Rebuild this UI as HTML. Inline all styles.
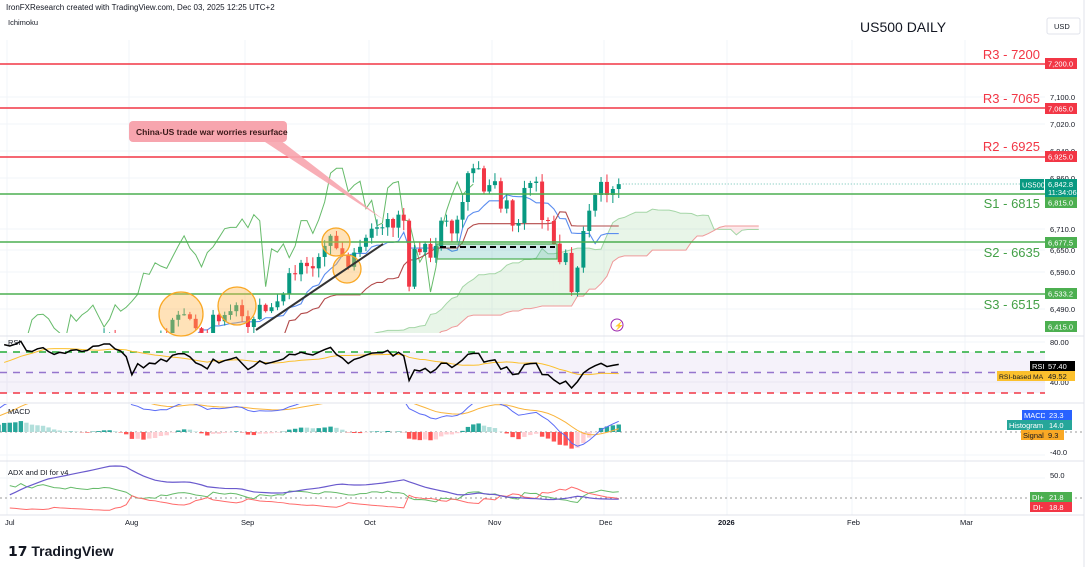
<!DOCTYPE html>
<html><head><meta charset="utf-8"><style>
body{margin:0;background:#fff;width:1090px;height:567px;overflow:hidden;font-family:"Liberation Sans",sans-serif}
svg{position:absolute;left:0;top:0}
</style></head><body>
<svg id="s" width="1090" height="567" xmlns="http://www.w3.org/2000/svg" font-family="Liberation Sans, sans-serif">
<rect width="1090" height="567" fill="#fff"/>
<g id="grid"></g>
<g id="dyn"></g>
<g id="static">
<text x="6" y="10" font-size="8" fill="#131722">IronFXResearch created with TradingView.com, Dec 03, 2025 12:25 UTC+2</text>
<text x="8" y="25" font-size="7.5" fill="#131722">Ichimoku</text>
<text x="860" y="32" font-size="14" fill="#131722">US500 DAILY</text>
<rect x="1047" y="18" width="33" height="16" rx="2" fill="#fff" stroke="#e0e3eb"/>
<text x="1054" y="29" font-size="7.5" fill="#131722">USD</text>
<text x="8" y="345" font-size="7.5" fill="#131722">RSI</text>
<text x="8" y="414" font-size="7.5" fill="#131722">MACD</text>
<text x="8" y="475" font-size="7.5" fill="#131722">ADX and DI for v4</text>
<g font-size="7.5" fill="#131722">
<text x="1050" y="100">7,100.0</text><text x="1050" y="127">7,020.0</text><text x="1050" y="154">6,940.0</text>
<text x="1050" y="181">6,860.0</text><text x="1050" y="232">6,710.0</text><text x="1050" y="253">6,650.0</text>
<text x="1050" y="275">6,590.0</text><text x="1050" y="312">6,490.0</text>
<text x="1050" y="345">80.00</text><text x="1050" y="385">40.00</text>
<text x="1050" y="455">-40.0</text><text x="1050" y="478">50.0</text>
</g>
<g font-size="7.5" fill="#131722">
<text x="5" y="525">Jul</text><text x="125" y="525">Aug</text><text x="241" y="525">Sep</text><text x="364" y="525">Oct</text>
<text x="488" y="525">Nov</text><text x="599" y="525">Dec</text><text x="718" y="525" font-weight="bold">2026</text>
<text x="847" y="525">Feb</text><text x="960" y="525">Mar</text>
</g>
<line x1="0" y1="515" x2="1084" y2="515" stroke="#e0e3eb"/>
<line x1="1084" y1="0" x2="1084" y2="567" stroke="#e0e3eb"/>
<line x1="0" y1="403" x2="1084" y2="403" stroke="#e0e3eb"/>
<line x1="0" y1="461" x2="1084" y2="461" stroke="#e0e3eb"/>
<line x1="0" y1="336" x2="1084" y2="336" stroke="#e0e3eb"/>
<g stroke-width="1.5">
<line x1="0" y1="64" x2="1045" y2="64" stroke="#f23645"/>
<line x1="0" y1="108" x2="1045" y2="108" stroke="#f23645"/>
<line x1="0" y1="157" x2="1045" y2="157" stroke="#f23645"/>
<line x1="0" y1="194" x2="1045" y2="194" stroke="#4caf50"/>
<line x1="0" y1="242" x2="1045" y2="242" stroke="#4caf50"/>
<line x1="0" y1="294" x2="1045" y2="294" stroke="#4caf50"/>
</g>
<g font-size="13" text-anchor="end">
<text x="1040" y="59" fill="#f23645">R3 - 7200</text>
<text x="1040" y="103" fill="#f23645">R3 - 7065</text>
<text x="1040" y="151" fill="#f23645">R2 - 6925</text>
<text x="1040" y="208" fill="#43a047">S1 - 6815</text>
<text x="1040" y="257" fill="#43a047">S2 - 6635</text>
<text x="1040" y="309" fill="#43a047">S3 - 6515</text>
</g>
<g font-size="7.5" fill="#fff">
<rect x="1045" y="58" width="32" height="11" fill="#f23645"/><text x="1048" y="66.5">7,200.0</text>
<rect x="1045" y="103" width="32" height="11" fill="#f23645"/><text x="1048" y="111.5">7,065.0</text>
<rect x="1045" y="151" width="32" height="11" fill="#f23645"/><text x="1048" y="159.5">6,925.0</text>
<rect x="1020" y="179" width="24" height="11" fill="#089981"/><text x="1022" y="187.5">US500</text>
<rect x="1045" y="179" width="32" height="18" fill="#089981"/><text x="1048" y="187">6,842.8</text><text x="1048" y="195">11:34:06</text>
<rect x="1045" y="197" width="32" height="11" fill="#4caf50"/><text x="1048" y="205.5">6,815.0</text>
<rect x="1045" y="237" width="32" height="11" fill="#4caf50"/><text x="1048" y="245.5">6,677.5</text>
<rect x="1045" y="288" width="32" height="11" fill="#4caf50"/><text x="1048" y="296.5">6,533.2</text>
<rect x="1045" y="321" width="32" height="11" fill="#4caf50"/><text x="1048" y="329.5">6,415.0</text>
<rect x="1030" y="361" width="15" height="10" fill="#000"/><text x="1032" y="369">RSI</text>
<rect x="1045" y="361" width="30" height="10" fill="#000"/><text x="1048" y="369">57.40</text>
<rect x="997" y="371" width="48" height="10" fill="#fbc02d"/><text x="999" y="379" fill="#131722" font-size="6.8">RSI-based MA</text>
<rect x="1045" y="371" width="30" height="10" fill="#fbc02d"/><text x="1048" y="379" fill="#131722">49.52</text>
<rect x="1022" y="410" width="23" height="10" fill="#2962ff"/><text x="1024" y="418">MACD</text>
<rect x="1045" y="410" width="27" height="10" fill="#2962ff"/><text x="1049" y="418">23.3</text>
<rect x="1007" y="420" width="38" height="10" fill="#26a69a"/><text x="1009" y="428">Histogram</text>
<rect x="1045" y="420" width="27" height="10" fill="#26a69a"/><text x="1049" y="428">14.0</text>
<rect x="1021" y="430" width="24" height="10" fill="#f9a825"/><text x="1023" y="438" fill="#131722">Signal</text>
<rect x="1045" y="430" width="19" height="10" fill="#f9a825"/><text x="1048" y="438" fill="#131722">9.3</text>
<rect x="1030" y="492" width="15" height="10" fill="#4caf50"/><text x="1032" y="500">DI+</text>
<rect x="1045" y="492" width="27" height="10" fill="#4caf50"/><text x="1049" y="500">21.8</text>
<rect x="1030" y="502" width="15" height="10" fill="#f23645"/><text x="1033" y="510">DI-</text>
<rect x="1045" y="502" width="27" height="10" fill="#f23645"/><text x="1049" y="510">18.8</text>
</g>
<polygon points="262,140 280,140 384,220" fill="#f7a5ae" opacity="0.9"/>
<rect x="129" y="121" width="158" height="21" rx="4" fill="#f7a5ae"/>
<text x="136" y="135" font-size="8.5" font-weight="bold" fill="#3a1a1a">China-US trade war worries resurface</text>
<g fill="rgba(255,183,77,0.4)" stroke="#f9a825" stroke-width="1.3">
<circle cx="181" cy="314" r="22"/><circle cx="237" cy="306" r="19"/>
<circle cx="336" cy="242" r="14"/><circle cx="347" cy="269" r="14"/>
</g>
<line x1="256" y1="330" x2="383" y2="244" stroke="#333" stroke-width="2"/>
<rect x="437" y="244" width="120" height="15" fill="rgba(38,166,154,0.22)" stroke="#4caf50" stroke-width="1.2"/>
<line x1="440" y1="247" x2="555" y2="247" stroke="#000" stroke-width="2" stroke-dasharray="6,4"/>
<circle cx="617" cy="325" r="6" fill="#fff" stroke="#9c27b0"/><text x="614" y="328.5" font-size="8" fill="#9c27b0">⚡</text>
<text x="8" y="556" font-size="14" font-weight="bold" fill="#131722">𝟭𝟳 TradingView</text>
</g>
</svg>
<script>
var m={Jun:[5911,5935,5970,6000,6000,6038,6045,6022,6038,6033,5977,6033,5981,5980,5967,6025,6092,6092,6141,6173,6205],
Jul:[6198,6227,6280,6230,6225,6263,6280,6259,6244,6268,6263,6297,6305,6297,6309,6358,6363,6389,6389,6370,6362,6339],
Aug:[6238,6329,6299,6345,6340,6389,6373,6445,6466,6468,6449,6411,6395,6370,6466,6439,6465,6481,6501,6460],
Sep:[6415,6448,6502,6481,6495,6512,6532,6587,6584,6615,6606,6600,6631,6664,6693,6656,6637,6604,6643,6661,6688],
Oct:[6711,6715,6715,6740,6714,6753,6735,6552,6654,6644,6671,6629,6664,6735,6735,6699,6738,6791,6875,6890,6890,6822,6840],
Nov:[6851,6771,6796,6720,6728,6832,6846,6850,6737,6734,6672,6617,6642,6538,6602,6705,6765,6812,6849],
Dec:[6812,6829,6842.8]};
var mx={Jun:[-112,7],Jul:[7,129],Aug:[129,245],Sep:[245,369],Oct:[369,492],Nov:[492,604],Dec:[604,727]};
var C=[],X=[];
for(var k in m){var a=m[k],r=mx[k],sp=Math.min((r[1]-r[0])/a.length,5.9);for(var i=0;i<a.length;i++){C.push(a[i]);X.push(r[0]+sp*(i+0.5));}}
var N=C.length,O=[],H=[],L=[];
for(i=0;i<N;i++){O[i]=i?C[i-1]:C[0];var w1=4+((i*37)%11)*2,w2=4+((i*53)%13)*2;H[i]=Math.max(O[i],C[i])+w1;L[i]=Math.min(O[i],C[i])-w2;}
L[m.Jun.length+22+20+21+7]=6540;
function xi(j){return j<N?X[j]:X[N-1]+(j-N+1)*5.6;}
var P=[[7200,64],[7065,108],[6925,157],[6860,178],[6815,194],[6710,229],[6677.5,242],[6650,250],[6590,272],[6533,294],[6490,309],[6415,327],[6000,450]];
function py(p){if(p>=P[0][0])return 64-(p-7200)*0.33;for(var j=0;j<P.length-1;j++){if(p<=P[j][0]&&p>=P[j+1][0]){var t=(P[j][0]-p)/(P[j][0]-P[j+1][0]);return P[j][1]+t*(P[j+1][1]-P[j][1]);}}return 450+(6000-p)*0.3;}
var g='';
var gx=[7,129,245,369,492,604,727,852,965];var gr='';
gx.forEach(function(x){gr+='<line x1="'+x+'" y1="40" x2="'+x+'" y2="515" stroke="#f2f4f8"/>';});
[97,124,151,178,229,250,272,309,342,382,455,478].forEach(function(y){gr+='<line x1="0" y1="'+y+'" x2="1045" y2="'+y+'" stroke="#f2f4f8"/>';});
document.getElementById('grid').innerHTML=gr;
function hl(a,b,e,pe){var h=-1e9,l=1e9;for(var j=Math.max(0,e-pe+1);j<=e;j++){if(H[j]>h)h=H[j];if(L[j]<l)l=L[j];}return (h+l)/2;}
var TK=[],KJ=[],SA={},SB={};
for(i=0;i<N;i++){TK[i]=hl(0,0,i,9);KJ[i]=hl(0,0,i,26);SA[i+25]=(TK[i]+KJ[i])/2;SB[i+25]=hl(0,0,i,52);}
function pl(pts,col,wd,op){return '<polyline points="'+pts.join(' ')+'" fill="none" stroke="'+col+'" stroke-width="'+(wd||1)+'"'+(op?' opacity="'+op+'"':'')+'/>';}
g+='<defs><clipPath id="cm"><rect x="0" y="40" width="1045" height="293"/></clipPath><clipPath id="cr"><rect x="0" y="337" width="1045" height="65"/></clipPath><clipPath id="cd"><rect x="0" y="404" width="1045" height="56"/></clipPath><clipPath id="ca"><rect x="0" y="462" width="1045" height="52"/></clipPath></defs>';
g+='<g clip-path="url(#cm)">';
var keys=[];for(var j=51;j<N+25;j++)keys.push(j);
for(j=0;j<keys.length-1;j++){var a1=keys[j],a2=keys[j+1];var col=SA[a1]>=SB[a1]?'rgba(76,175,80,0.13)':'rgba(242,54,69,0.1)';
g+='<polygon points="'+xi(a1)+','+py(SA[a1])+' '+xi(a2)+','+py(SA[a2])+' '+xi(a2)+','+py(SB[a2])+' '+xi(a1)+','+py(SB[a1])+'" fill="'+col+'"/>';}
var pa=[],pb=[];keys.forEach(function(j){pa.push(xi(j)+','+py(SA[j]));pb.push(xi(j)+','+py(SB[j]));});
g+=pl(pa,'#a5d6a7',1)+pl(pb,'#ef9a9a',1);
var pt=[],pk=[],pc=[];
for(i=9;i<N;i++)pt.push(X[i]+','+py(TK[i]));for(i=26;i<N;i++)pk.push(X[i]+','+py(KJ[i]));
for(i=25;i<N;i++)pc.push(X[i-25]+','+py(C[i]));
g+=pl(pc,'#66bb6a',1)+pl(pt,'#5b8def',1.1)+pl(pk,'#b24a4a',1.1);
for(i=0;i<N;i++){var up=C[i]>=O[i],cl=up?'#089981':'#f23645',x=X[i];
g+='<line x1="'+x+'" y1="'+py(H[i])+'" x2="'+x+'" y2="'+py(L[i])+'" stroke="'+cl+'"/>';
var y1=py(Math.max(O[i],C[i])),y2=py(Math.min(O[i],C[i]));g+='<rect x="'+(x-2)+'" y="'+y1+'" width="4" height="'+Math.max(1,y2-y1)+'" fill="'+cl+'"/>';}
g+='<line x1="'+(X[N-1]+4)+'" y1="184" x2="1045" y2="184" stroke="#089981" stroke-dasharray="1,2" opacity="0.6"/>';
g+='</g>';
var R=[],ag=0,al=0;for(i=1;i<N;i++){var d=C[i]-C[i-1],gn=Math.max(d,0),ls=Math.max(-d,0);if(i<=14){ag+=gn/14;al+=ls/14;}else{ag=(ag*13+gn)/14;al=(al*13+ls)/14;}R[i]=i>=14?100-100/(1+ag/(al||1e-9)):50;}
g+='<rect x="0" y="352" width="1045" height="41" fill="rgba(126,87,194,0.08)"/>';
g+='<line x1="0" y1="352" x2="1045" y2="352" stroke="#22ab36" stroke-width="1.5" stroke-dasharray="7,6"/><line x1="0" y1="372.5" x2="1045" y2="372.5" stroke="#9575cd" stroke-width="1.5" stroke-dasharray="7,6"/><line x1="0" y1="393" x2="1045" y2="393" stroke="#f23645" stroke-width="1.5" stroke-dasharray="7,6"/>';
function ry(v){return 372.5-(v-50)*1.025;}
var pr=[],pm=[];for(i=20;i<N;i++){pr.push(X[i]+','+ry(R[i]));var s=0;for(j=i-13;j<=i;j++)s+=R[j];pm.push(X[i]+','+ry(s/14));}
g+='<g clip-path="url(#cr)">'+pl(pm,'#fbc02d',1)+pl(pr,'#000',1.5)+'</g>';
function ema(arr,n){var o=[],k2=2/(n+1);o[0]=arr[0];for(var q=1;q<arr.length;q++)o[q]=arr[q]*k2+o[q-1]*(1-k2);return o;}
var e12=ema(C,12),e26=ema(C,26),M=C.map(function(v,q){return e12[q]-e26[q];}),S=ema(M,9);
function my(v){return 432-v*0.5;}
g+='<line x1="0" y1="432" x2="1084" y2="432" stroke="#999" stroke-dasharray="2,3"/><g clip-path="url(#cd)">';
var pM=[],pS=[];for(i=5;i<N;i++){var hv=M[i]-S[i],hp=M[i-1]-S[i-1],c2=hv>=0?(hv>=hp?'#26a69a':'#b2dfdb'):(hv<hp?'#ff5252':'#ffcdd2');
var yy=my(hv);g+='<rect x="'+(X[i]-2.2)+'" y="'+Math.min(yy,432)+'" width="4.4" height="'+Math.abs(yy-432)+'" fill="'+c2+'"/>';
pM.push(X[i]+','+my(M[i]));pS.push(X[i]+','+my(S[i]));}
g+=pl(pS,'#f9b43b',1)+pl(pM,'#5b6cf6',1)+'</g>';
var tr=0,dp=0,dm=0,ad=0,Pp=[],Pm=[],Pa=[];
for(i=1;i<N;i++){var t1=Math.max(H[i]-L[i],Math.abs(H[i]-C[i-1]),Math.abs(L[i]-C[i-1]));var u=H[i]-H[i-1],dn=L[i-1]-L[i];
var pd=(u>dn&&u>0)?u:0,md=(dn>u&&dn>0)?dn:0;tr=tr-tr/14+t1;dp=dp-dp/14+pd;dm=dm-dm/14+md;
var dip=100*dp/tr,dim=100*dm/tr,dx=100*Math.abs(dip-dim)/((dip+dim)||1);ad=i<15?dx:(ad*13+dx)/14;
if(i>20){var yv=function(v){return 513-v*0.77;};Pp.push(X[i]+','+yv(dip));Pm.push(X[i]+','+yv(dim));Pa.push(X[i]+','+yv(ad));}}
g+='<line x1="0" y1="498" x2="1084" y2="498" stroke="#999" stroke-dasharray="2,3"/><g clip-path="url(#ca)">'+pl(Pp,'#66bb6a',1)+pl(Pm,'#ff6b6b',1)+pl(Pa,'#6a5acd',1.2)+'</g>';
document.getElementById('dyn').innerHTML=g;
</script>
</body></html>
